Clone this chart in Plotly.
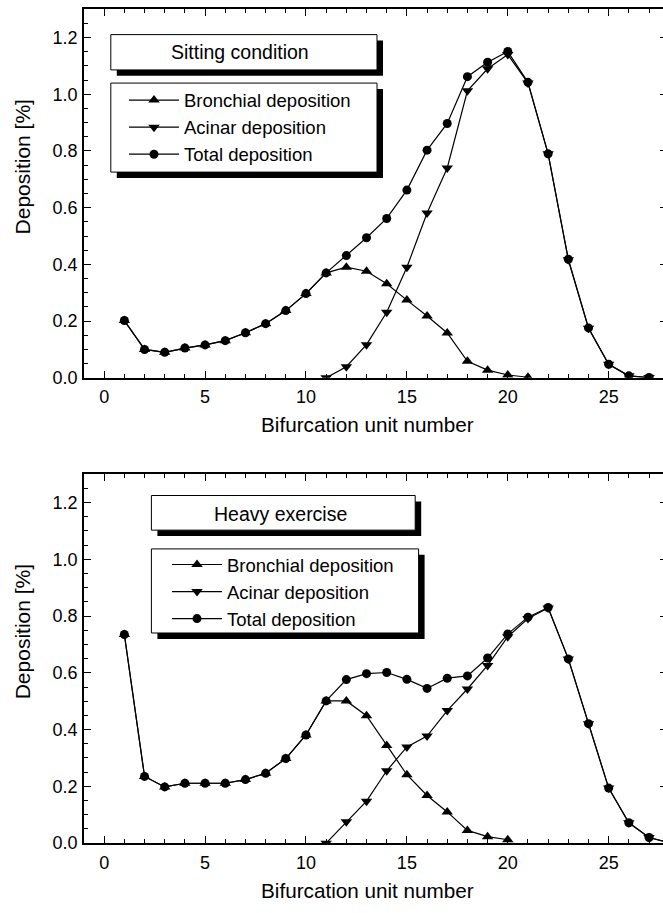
import plotly.graph_objects as go

# ---------------- data ----------------
units_sit = list(range(1, 28))
bronchial_x_sit = list(range(1, 22))
bronchial_sit = [0.202, 0.100, 0.090, 0.105, 0.116, 0.131, 0.159, 0.191, 0.237, 0.297,
                 0.370, 0.390, 0.376, 0.332, 0.274, 0.218, 0.158, 0.058, 0.027, 0.010, 0.002]
acinar_x_sit = list(range(11, 28))
acinar_sit = [0.000, 0.039, 0.117, 0.231, 0.390, 0.581, 0.740, 1.012, 1.090, 1.140,
              1.040, 0.790, 0.416, 0.175, 0.048, 0.007, 0.001]
total_sit = [0.202, 0.100, 0.090, 0.105, 0.116, 0.131, 0.159, 0.191, 0.237, 0.297,
             0.370, 0.431, 0.494, 0.562, 0.662, 0.803, 0.897, 1.062, 1.113, 1.151,
             1.042, 0.790, 0.418, 0.176, 0.048, 0.007, 0.001]

units_ex = list(range(1, 29))
bronchial_x_ex = list(range(1, 21))
bronchial_ex = [0.735, 0.235, 0.198, 0.211, 0.211, 0.211, 0.224, 0.246, 0.298, 0.381,
                0.501, 0.501, 0.449, 0.344, 0.241, 0.168, 0.110, 0.045, 0.023, 0.012]
acinar_x_ex = list(range(11, 29))
acinar_ex = [0.000, 0.075, 0.148, 0.255, 0.339, 0.377, 0.467, 0.543, 0.626, 0.727,
             0.791, 0.828, 0.649, 0.421, 0.194, 0.072, 0.020, 0.002]
total_ex = [0.735, 0.235, 0.198, 0.211, 0.211, 0.211, 0.224, 0.246, 0.298, 0.381,
            0.501, 0.576, 0.597, 0.601, 0.577, 0.545, 0.581, 0.589, 0.652, 0.737,
            0.796, 0.830, 0.649, 0.421, 0.194, 0.072, 0.020, 0.002]

series_names = ["Bronchial deposition", "Acinar deposition", "Total deposition"]
panel_titles = ["Sitting condition", "Heavy exercise"]
x_title = "Bifurcation unit number"
y_title = "Deposition [%]"

# ---------------- layout helpers ----------------
W, H = 663, 913
FONT = "Arial, Liberation Sans, sans-serif"


def px(x):
    return x / W


def py(y):
    return 1 - y / H


symbols = ["triangle-up", "triangle-down", "circle"]
msizes = [10, 10, 9]

fig = go.Figure()

panels = [
    (bronchial_x_sit, bronchial_sit, acinar_x_sit, acinar_sit, units_sit, total_sit, "x", "y", "legend"),
    (bronchial_x_ex, bronchial_ex, acinar_x_ex, acinar_ex, units_ex, total_ex, "x2", "y2", "legend2"),
]
for bx, by, ax_, ay, tx, ty, xa, ya, lg in panels:
    for (xs, ys), name, sym, ms in zip([(bx, by), (ax_, ay), (tx, ty)], series_names, symbols, msizes):
        fig.add_trace(go.Scatter(
            x=xs, y=ys, name=name, mode="lines+markers",
            line=dict(color="black", width=1.2),
            marker=dict(symbol=sym, size=ms, color="black"),
            xaxis=xa, yaxis=ya, legend=lg, showlegend=True,
        ))

x_left, x_right = 84, W
unit_px = 20.18
x_range = [-1, -1 + (x_right - x_left) / unit_px]

plot_rows = [(9.3, 382.0), (479.3, 852.5)]

tickfont = dict(family=FONT, size=18, color="black")
minor_x = dict(ticks="inside", dtick=1, ticklen=4, tickwidth=1.2, tickcolor="black", showgrid=False)
minor_y = dict(ticks="inside", dtick=0.05, ticklen=4, tickwidth=1.2, tickcolor="black", showgrid=False)

for i, (top, bot) in enumerate(plot_rows):
    sfx = "" if i == 0 else "2"
    rsfx = "3" if i == 0 else "4"
    fig.update_layout(**{
        "xaxis" + sfx: dict(
            domain=[px(x_left), 1.0], range=x_range, dtick=5, tick0=0,
            showline=True, linecolor="black", linewidth=1.6, mirror="ticks",
            ticks="inside", tickcolor="black", tickwidth=1.4, ticklen=7,
            showgrid=False, zeroline=False, tickfont=tickfont, minor=minor_x,
            anchor="y" + sfx, ticklabelstandoff=2),
        "yaxis" + sfx: dict(
            domain=[py(bot), py(top)], range=[0, 1.3], dtick=0.2, tick0=0, tickformat=".1f",
            showline=True, linecolor="black", linewidth=1.6, mirror=False,
            ticks="inside", tickcolor="black", tickwidth=1.4, ticklen=7,
            showgrid=False, zeroline=False, tickfont=tickfont, minor=minor_y,
            anchor="x" + sfx, ticklabelstandoff=1),
        # right-hand tick marks only (the frame edge falls just outside the picture)
        "yaxis" + rsfx: dict(
            overlaying="y" + sfx, side="right", anchor="x" + sfx, range=[0, 1.3],
            dtick=0.2, tick0=0, showline=False, showticklabels=False,
            ticks="inside", tickcolor="black", tickwidth=1.4, ticklen=3,
            showgrid=False, zeroline=False),
    })

# invisible helper traces so the right-hand tick axes get drawn
fig.add_trace(go.Scatter(x=[None], y=[None], xaxis="x", yaxis="y3", showlegend=False, hoverinfo="skip"))
fig.add_trace(go.Scatter(x=[None], y=[None], xaxis="x2", yaxis="y4", showlegend=False, hoverinfo="skip"))

annotations = []
shapes = []

# axis titles
for top, bot in plot_rows:
    annotations.append(dict(text=x_title, x=px(367), y=py(bot + 47.5),
                            xref="paper", yref="paper", showarrow=False,
                            font=dict(family=FONT, size=20.7, color="black"),
                            xanchor="center", yanchor="middle"))
    annotations.append(dict(text=y_title, x=px(22), y=py(top + 160),
                            xref="paper", yref="paper", showarrow=False, textangle=-90,
                            font=dict(family=FONT, size=21, color="black"),
                            xanchor="center", yanchor="middle"))

# boxes with drop shadows: (title box), (legend box)
box_specs = [
    dict(title=(110.8, 35.0, 377.0, 70.7), leg=(110.8, 84.0, 377.0, 174.0), tcx=240, tcy=52.5),
    dict(title=(151.4, 501.0, 415.2, 536.0), leg=(151.4, 555.0, 418.6, 640.0), tcx=280, tcy=519.5),
]
SH = 6
for spec, ttl in zip(box_specs, panel_titles):
    for (x0, y0, x1, y1) in (spec["title"], spec["leg"]):
        shapes.append(dict(type="rect", xref="paper", yref="paper",
                           x0=px(x0 + SH), x1=px(x1 + SH), y0=py(y1 + SH), y1=py(y0 + SH),
                           fillcolor="black", line=dict(width=0), layer="above"))
        shapes.append(dict(type="rect", xref="paper", yref="paper",
                           x0=px(x0), x1=px(x1), y0=py(y1), y1=py(y0),
                           fillcolor="white", line=dict(color="black", width=1), layer="above"))
    annotations.append(dict(text=ttl, x=px(spec["tcx"]), y=py(spec["tcy"]),
                            xref="paper", yref="paper", showarrow=False,
                            font=dict(family=FONT, size=19.5, color="black"),
                            xanchor="center", yanchor="middle"))

legend_common = dict(bgcolor="rgba(0,0,0,0)", borderwidth=0,
                     font=dict(family=FONT, size=18.5, color="black"),
                     xanchor="left", yanchor="top", itemwidth=50, tracegroupgap=0)

fig.update_layout(
    width=W, height=H, margin=dict(l=0, r=0, t=0, b=0),
    paper_bgcolor="white", plot_bgcolor="white",
    font=dict(family=FONT, color="black"),
    showlegend=True,
    legend=dict(x=px(124), y=py(82.5), **legend_common),
    legend2=dict(x=px(167), y=py(552), **legend_common),
    shapes=shapes, annotations=annotations,
)

fig.write_html("out.html")
